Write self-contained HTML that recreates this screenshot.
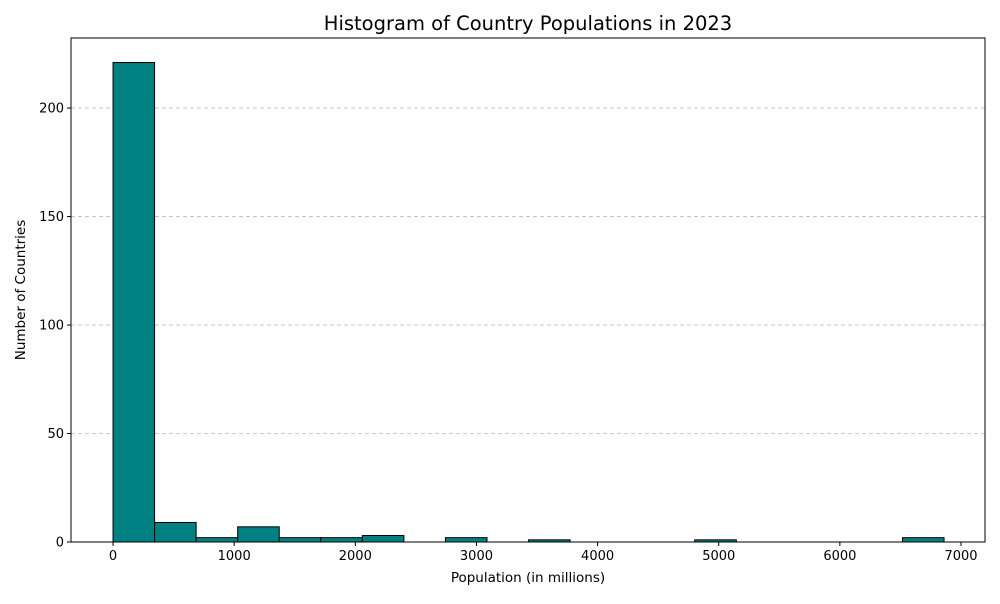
<!DOCTYPE html>
<html><head><meta charset="utf-8"><style>
body{margin:0;background:#fff;font-family:"DejaVu Sans","Liberation Sans",sans-serif}
</style></head><body>
<svg id="chart" width="1000" height="600" font-family="DejaVu Sans, Liberation Sans, sans-serif" xmlns="http://www.w3.org/2000/svg"></svg>
<script>
const binStart = 0;
const binWidth = 343;
const counts = [221, 9, 2, 7, 2, 2, 3, 0, 2, 0, 1, 0, 0, 0, 1, 0, 0, 0, 0, 2];
const xTicks = [0, 1000, 2000, 3000, 4000, 5000, 6000, 7000];
const yTicks = [0, 50, 100, 150, 200];

const L=71,R=985,T=38,B=542;
const xMin=-347,xMax=7198,yMax=232.3;
const sx=v=>L+(v-xMin)/(xMax-xMin)*(R-L);
const sy=v=>B-v/yMax*(B-T);
const svg=document.getElementById('chart');
const NS='http://www.w3.org/2000/svg';
function mk(tag,attrs,parent){const e=document.createElementNS(NS,tag);for(const k in attrs)e.setAttribute(k,attrs[k]);(parent||svg).appendChild(e);return e;}

yTicks.forEach(v=>{ if(v===0)return;
  const g=mk('line',{x1:L,x2:R,y1:sy(v),y2:sy(v),stroke:'#b0b0b0','stroke-dasharray':'4,3','stroke-width':0.8,opacity:0.8});
  
  
});
counts.forEach((c,i)=>{
  const x0=sx(binStart+i*binWidth),x1=sx(binStart+(i+1)*binWidth);
  const r=mk('rect',{x:x0,y:sy(c),width:x1-x0,height:sy(0)-sy(c),fill:'#008080',stroke:'#000','stroke-width':1});
  
  
});
const f=mk('rect',{x:L,y:T,width:R-L,height:B-T,fill:'none',stroke:'#000','stroke-width':1});


xTicks.forEach(v=>{
  mk('line',{x1:sx(v),x2:sx(v),y1:B,y2:B+4,stroke:'#000'});
  const t=mk('text',{x:sx(v),y:B+18,'text-anchor':'middle','font-size':13});
  t.textContent=v;
  
  
});
yTicks.forEach(v=>{
  mk('line',{x1:L-4,x2:L,y1:sy(v),y2:sy(v),stroke:'#000'});
  const t=mk('text',{x:L-7,y:sy(v)+4.5,'text-anchor':'end','font-size':13});
  t.textContent=v;
  
  
});
const title=mk('text',{x:(L+R)/2,y:30,'text-anchor':'middle','font-size':19.5});
title.textContent='Histogram of Country Populations in 2023';


const xl=mk('text',{x:(L+R)/2,y:582,'text-anchor':'middle','font-size':13.5});
xl.textContent='Population (in millions)';


const yl=mk('text',{x:25,y:(T+B)/2,'text-anchor':'middle','font-size':13.5,transform:`rotate(-90 25 ${(T+B)/2})`});
yl.textContent='Number of Countries';


</script>
</body></html>
